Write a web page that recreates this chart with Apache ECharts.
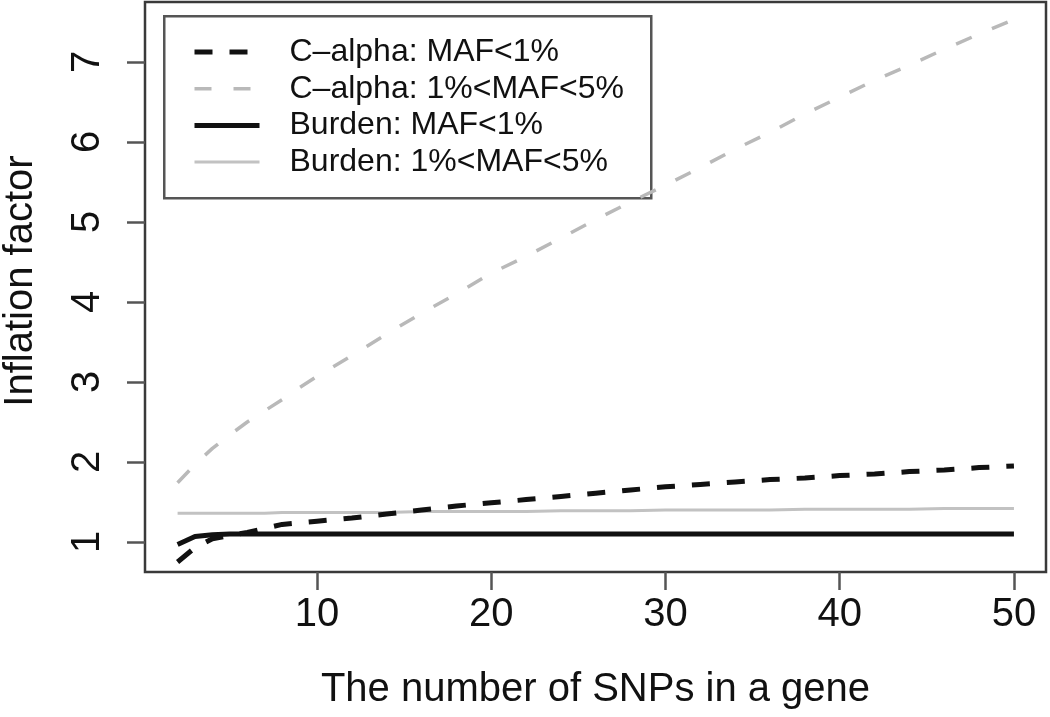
<!DOCTYPE html>
<html>
<head>
<meta charset="utf-8">
<style>
  html, body { margin: 0; padding: 0; background: #fff; }
  #chart { width: 1050px; height: 717px; }
</style>
<script src="https://cdn.jsdelivr.net/npm/echarts@6/dist/echarts.min.js"></script>
</head>
<body>
<div id="chart"></div>
<script>
// ---- data ----
const snps = [2,3,4,5,6,7,8,9,10,12,14,16,18,20,22,24,26,28,30,32,34,36,38,40,42,44,46,48,50];
const calphaLow = [0.75,0.93,1.04,1.08,1.12,1.17,1.22,1.24,1.26,1.30,1.35,1.40,1.45,1.49,1.53,1.57,1.61,1.65,1.69,1.72,1.75,1.78,1.80,1.83,1.85,1.88,1.90,1.93,1.95];
const calphaCommon = [1.74,1.97,2.17,2.34,2.50,2.64,2.78,2.93,3.07,3.33,3.60,3.86,4.10,4.36,4.57,4.80,5.03,5.25,5.46,5.68,5.91,6.12,6.35,6.56,6.77,6.96,7.16,7.35,7.53];
const burdenLow = [0.97,1.07,1.09,1.10,1.10,1.10,1.10,1.10,1.10,1.10,1.10,1.10,1.10,1.10,1.10,1.10,1.10,1.10,1.10,1.10,1.10,1.10,1.10,1.10,1.10,1.10,1.10,1.10,1.10];
const burdenCommon = [1.36,1.36,1.36,1.36,1.36,1.36,1.37,1.37,1.37,1.37,1.37,1.38,1.38,1.38,1.38,1.39,1.39,1.39,1.40,1.40,1.40,1.40,1.41,1.41,1.41,1.41,1.42,1.42,1.42];
const seriesNames = ['C\u2013alpha: MAF<1%', 'C\u2013alpha: 1%<MAF<5%', 'Burden: MAF<1%', 'Burden: 1%<MAF<5%'];
const xTicks = [10, 20, 30, 40, 50];
const yTicks = [1, 2, 3, 4, 5, 6, 7];
const xTitle = 'The number of SNPs in a gene';
const yTitle = 'Inflation factor';

const pairs = arr => snps.map((x, i) => [x, arr[i]]);
const FONT = '"Liberation Sans", Arial, Helvetica, sans-serif';

const styles = [
  { color: '#111', width: 5, type: [18, 17] },
  { color: '#b9b9b9', width: 3.5, type: [17, 22] },
  { color: '#111', width: 5, type: 'solid' },
  { color: '#c2c2c2', width: 3, type: 'solid' }
];

const chart = echarts.init(document.getElementById('chart'), null, { renderer: 'canvas' });
chart.setOption({
  animation: false,
  backgroundColor: '#ffffff',
  grid: {
    left: 145, right: 4, top: 2, bottom: 145,
    containLabel: false, outerBoundsMode: 'none',
    show: true, borderColor: '#3a3a3a', borderWidth: 2.5, backgroundColor: 'transparent'
  },
  xAxis: {
    type: 'value', min: 0.13, max: 51.84,
    axisLine: { show: false },
    splitLine: { show: false },
    axisTick: { show: true, length: 18, lineStyle: { color: '#555', width: 2.5 }, customValues: xTicks },
    axisLabel: { show: true, customValues: xTicks, fontFamily: FONT, fontSize: 40, color: '#111', margin: 23 },
    name: xTitle, nameLocation: 'middle', nameGap: 98,
    nameTextStyle: { fontFamily: FONT, fontSize: 40, color: '#111' }
  },
  yAxis: {
    type: 'value', min: 0.625, max: 7.75,
    axisLine: { show: false },
    splitLine: { show: false },
    axisTick: { show: true, length: 18, lineStyle: { color: '#555', width: 2.5 }, customValues: yTicks },
    axisLabel: { show: true, customValues: yTicks, rotate: 90, fontFamily: FONT, fontSize: 40, color: '#111', margin: 37 },
    name: yTitle, nameLocation: 'middle', nameGap: 104, nameRotate: 90,
    nameTextStyle: { fontFamily: FONT, fontSize: 40, color: '#111', padding: [0, 0, 0, 12] }
  },
  legend: {
    orient: 'vertical', left: 192, top: 34, padding: 0,
    itemWidth: 65, itemHeight: 14, itemGap: 0.7,
    itemStyle: { opacity: 0 },
    data: seriesNames.map((n, i) => ({
      name: n,
      itemStyle: { opacity: 0 },
      lineStyle: { color: styles[i].color, width: styles[i].width, type: styles[i].type }
    })),
    textStyle: { fontFamily: FONT, fontSize: 32, color: '#111', lineHeight: 36, padding: [0, 0, 0, 25] }
  },
  graphic: [{
    type: 'rect', left: 163, top: 15, z: 0,
    shape: { width: 487, height: 182 },
    style: { fill: 'transparent', stroke: '#555', lineWidth: 2.5 }
  }],
  series: [
    { name: seriesNames[1], type: 'line', data: pairs(calphaCommon), showSymbol: false, symbol: 'none',
      lineStyle: styles[1], itemStyle: { color: styles[1].color }, z: 2 },
    { name: seriesNames[3], type: 'line', data: pairs(burdenCommon), showSymbol: false, symbol: 'none',
      lineStyle: styles[3], itemStyle: { color: styles[3].color }, z: 2 },
    { name: seriesNames[2], type: 'line', data: pairs(burdenLow), showSymbol: false, symbol: 'none',
      lineStyle: styles[2], itemStyle: { color: styles[2].color }, z: 3 },
    { name: seriesNames[0], type: 'line', data: pairs(calphaLow), showSymbol: false, symbol: 'none',
      lineStyle: styles[0], itemStyle: { color: styles[0].color }, z: 4 }
  ]
});
</script>
</body>
</html>
